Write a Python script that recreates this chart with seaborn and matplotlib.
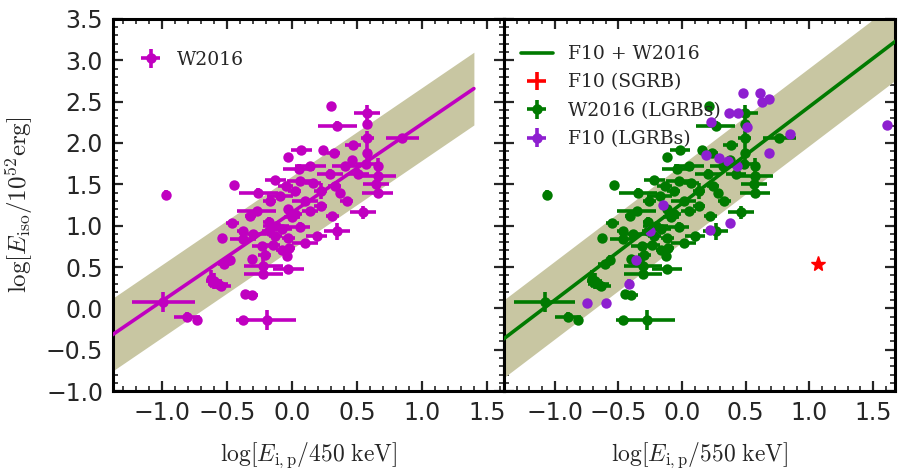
import numpy as np
import pandas as pd
import seaborn as sns
import matplotlib
matplotlib.use("Agg")
import matplotlib.pyplot as plt
from matplotlib.ticker import MultipleLocator, FuncFormatter

# ---------------- data ----------------
# W2016 sample, x = log[E_i,p / 450 keV], y = log[E_iso / 1e52 erg]
w_x = [-0.97, -0.45, 0.30, 0.35, 0.58, 0.58, 0.58, 0.85, 0.47, 0.58,
       0.07, -0.03, 0.24, 0.32, 0.46, 0.57, 0.66, 0.66, 0.65, 0.66,
       0.05, -0.13, -0.27, 0.55, 0.37, 0.42, 0.51, 0.29, 0.16, 0.35,
       0.31, 0.19, 0.10, -0.02, -0.04, -0.03, -0.22, -0.22, -0.21, -0.31,
       -0.15, -0.08, -0.03, -0.08, -0.18, 0.02, -0.03, -0.99, -0.81, -0.73,
       -0.38, -0.19, -0.36, -0.31, -0.62, -0.57, -0.52, -0.48, -0.54, -0.46,
       -0.38, -0.30, -0.26, -0.17, -0.09, 0.02, 0.10, 0.14, 0.22, 0.06,
       -0.13, -0.23, -0.05, 0.06, 0.22, -0.32, -0.38, -0.18, 0.14, 0.41,
       0.33, -0.60, -0.55, -0.12, 0.00]
w_y = [1.37, 1.49, 2.45, 2.21, 2.36, 2.23, 2.06, 2.06, 1.97, 1.88,
       1.91, 1.83, 1.91, 1.88, 1.80, 1.75, 1.72, 1.60, 1.50, 1.40,
       1.69, 1.55, 1.18, 1.16, 1.40, 1.30, 1.63, 1.63, 1.52, 0.93,
       1.12, 0.87, 0.79, 0.73, 0.63, 0.48, 0.51, 0.42, 0.65, 0.60,
       0.77, 0.71, 0.85, 0.96, 1.05, 1.14, 1.20, 0.08, -0.10, -0.14,
       -0.14, -0.14, 0.17, 0.16, 0.36, 0.30, 0.54, 0.59, 0.85, 1.03,
       0.93, 0.90, 1.40, 1.30, 1.36, 1.42, 1.30, 1.18, 1.24, 0.99,
       0.87, 0.75, 1.48, 1.54, 1.42, 1.12, 0.84, 0.93, 1.72, 1.72,
       1.48, 0.33, 0.27, 1.00, 1.10]
w_xerr = [0.00, 0.00, 0.00, 0.15, 0.10, 0.03, 0.05, 0.13, 0.06, 0.00,
          0.08, 0.00, 0.00, 0.05, 0.00, 0.08, 0.00, 0.14, 0.10, 0.12,
          0.12, 0.08, 0.15, 0.10, 0.00, 0.05, 0.08, 0.10, 0.06, 0.10,
          0.05, 0.08, 0.10, 0.04, 0.00, 0.12, 0.15, 0.15, 0.05, 0.00,
          0.06, 0.04, 0.05, 0.08, 0.04, 0.06, 0.00, 0.24, 0.10, 0.00,
          0.05, 0.22, 0.00, 0.05, 0.00, 0.08, 0.05, 0.00, 0.00, 0.05,
          0.04, 0.10, 0.15, 0.05, 0.10, 0.05, 0.10, 0.06, 0.05, 0.08,
          0.05, 0.08, 0.06, 0.10, 0.05, 0.04, 0.10, 0.05, 0.12, 0.10,
          0.05, 0.06, 0.08, 0.10, 0.06]
w_yerr = [0.06, 0.04, 0.04, 0.05, 0.10, 0.04, 0.08, 0.04, 0.04, 0.10,
          0.04, 0.04, 0.04, 0.04, 0.04, 0.05, 0.10, 0.05, 0.05, 0.05,
          0.05, 0.05, 0.05, 0.08, 0.04, 0.05, 0.05, 0.05, 0.05, 0.10,
          0.05, 0.05, 0.05, 0.05, 0.05, 0.05, 0.12, 0.05, 0.05, 0.05,
          0.05, 0.05, 0.05, 0.05, 0.05, 0.05, 0.05, 0.12, 0.05, 0.05,
          0.04, 0.12, 0.05, 0.05, 0.10, 0.05, 0.05, 0.05, 0.05, 0.05,
          0.05, 0.05, 0.05, 0.05, 0.05, 0.05, 0.05, 0.05, 0.05, 0.05,
          0.05, 0.05, 0.05, 0.05, 0.10, 0.05, 0.05, 0.05, 0.05, 0.05,
          0.05, 0.10, 0.05, 0.05, 0.05]

# F10 long GRBs, x = log[E_i,p / 550 keV]
f10_x = [0.48, 0.61, 0.63, 0.68, 0.37, 0.44, 0.23, 0.51, 0.85, 1.61,
         0.68, 0.19, 0.29, 0.36, 0.43, -0.15, 0.38, 0.22, -0.25, -0.36,
         -0.42, -0.75, -0.60]
f10_y = [2.60, 2.60, 2.49, 2.53, 2.36, 2.36, 2.25, 2.19, 2.11, 2.22,
         1.88, 1.85, 1.82, 1.78, 1.72, 1.25, 1.03, 0.95, 0.93, 0.58,
         0.30, 0.06, 0.06]
# F10 short GRB
sgrb_x = [1.07]
sgrb_y = [0.54]

# log(450 keV / 550 keV): change of normalisation between the two panels
norm_shift = np.log10(450.0 / 550.0)

# best fits and scatter band
fit_left = dict(a=1.16, b=1.07, sig=0.44, xmin=-1.5, xmax=1.40)
fit_right = dict(a=1.27, b=1.17, sig=0.47, xmin=-1.5, xmax=1.70)

# ---------------- style ----------------
sns.set_theme(style="ticks")
plt.rcParams["font.family"] = ["DejaVu Sans"]
plt.rcParams["mathtext.fontset"] = "cm"
plt.rcParams["axes.unicode_minus"] = True
plt.rcParams["axes.linewidth"] = 2.2

MAG = "#c000c0"
GRN = "#007a00"
PUR = "#8e1fd0"
BAND = "#c8c6a2"

fig, (ax1, ax2) = plt.subplots(1, 2, figsize=(9.02, 4.74), dpi=100, sharey=True)
fig.subplots_adjust(left=0.125, right=0.992, bottom=0.175, top=0.96, wspace=0)

df_w = pd.DataFrame({"x": w_x, "y": w_y, "xe": w_xerr, "ye": w_yerr})
df_w["x550"] = df_w["x"] + norm_shift
df_f = pd.DataFrame({"x": f10_x, "y": f10_y})


def draw_fit(ax, fit, color):
    xs = np.linspace(fit["xmin"], fit["xmax"], 50)
    ys = fit["a"] + fit["b"] * xs
    ax.fill_between(xs, ys - fit["sig"], ys + fit["sig"], color=BAND,
                    linewidth=0, zorder=1)
    sns.lineplot(x=xs, y=ys, ax=ax, color=color, linewidth=2.6, zorder=4,
                 legend=False)


ekw = dict(fmt="o", ms=7.5, elinewidth=2.6, capsize=0, mew=0)
leg_font = {"family": "DejaVu Serif", "size": 13.5}

# left panel
draw_fit(ax1, fit_left, MAG)
h_w = ax1.errorbar(df_w["x"], df_w["y"], xerr=df_w["xe"], yerr=df_w["ye"],
                   color=MAG, zorder=3, **ekw)
ax1.legend([h_w], ["W2016"], loc="upper left", frameon=False, prop=leg_font,
           bbox_to_anchor=(0.02, 0.965), handlelength=1.2, borderaxespad=0.6)

# right panel
draw_fit(ax2, fit_right, GRN)
h_line, = ax2.plot([], [], color=GRN, lw=2.6)
h_g = ax2.errorbar(df_w["x550"], df_w["y"], xerr=df_w["xe"], yerr=df_w["ye"],
                   color=GRN, zorder=3, **ekw)
h_p = ax2.errorbar(df_f["x"], df_f["y"], xerr=0, yerr=0.05,
                   color=PUR, zorder=3, **ekw)
ax2.plot(sgrb_x, sgrb_y, marker="*", color="red", ms=11, ls="none", zorder=5)
h_r = ax2.errorbar([], [], xerr=[], yerr=[], fmt="none", color="red",
                   elinewidth=2.6, capsize=0)
ax2.legend([h_line, h_r, h_g, h_p],
           ["F10 + W2016", "F10 (SGRB)", "W2016 (LGRBs)", "F10 (LGRBs)"],
           loc="upper left", frameon=False, prop=leg_font,
           bbox_to_anchor=(0.0, 0.975),
           handlelength=1.7, labelspacing=0.55, borderaxespad=0.5)

ax1.set_xlim(-1.38, 1.63)
ax2.set_xlim(-1.40, 1.67)
ax1.set_ylim(-1.0, 3.5)

fmt = FuncFormatter(lambda v, pos: f"{v:.1f}".replace("-", "\u2212"))

for ax in (ax1, ax2):
    ax.xaxis.set_major_locator(MultipleLocator(0.5))
    ax.xaxis.set_minor_locator(MultipleLocator(0.1))
    ax.yaxis.set_major_locator(MultipleLocator(0.5))
    ax.yaxis.set_minor_locator(MultipleLocator(0.1))
    ax.tick_params(which="both", direction="in", top=True, right=True,
                   bottom=True, left=True)
    ax.tick_params(which="major", length=7, width=1.6, labelsize=17, pad=7)
    ax.tick_params(which="minor", length=3.5, width=1.2)
    ax.xaxis.set_major_formatter(fmt)
    ax.yaxis.set_major_formatter(fmt)
    for s in ax.spines.values():
        s.set_visible(True)
        s.set_linewidth(2.2)
        s.set_color("black")

ax2.tick_params(labelleft=False)

ax1.set_ylabel(r"$\log[E_{\rm iso}/10^{52}{\rm erg}]$", fontsize=18, labelpad=8)
ax1.set_xlabel(r"$\log[E_{\rm i,p}/450\ {\rm keV}]$", fontsize=17, labelpad=11)
ax2.set_xlabel(r"$\log[E_{\rm i,p}/550\ {\rm keV}]$", fontsize=17, labelpad=11)

fig.savefig("out.png", dpi=100)
